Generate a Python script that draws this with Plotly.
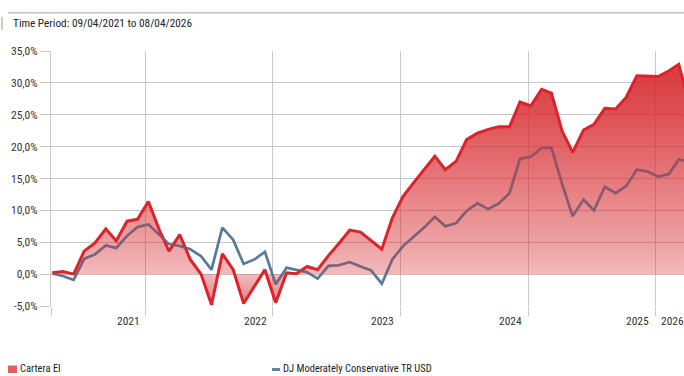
import pandas as pd
import plotly.graph_objects as go

# Monthly observations, one every month from 9 April 2021
dates = pd.date_range("2021-04-01", periods=61, freq="MS") + pd.Timedelta(days=8)

cartera_ei = [
    0.2, 0.4, 0.0, 3.6, 4.9, 7.1, 5.2, 8.3, 8.6, 11.4,
    7.0, 3.6, 6.2, 2.3, 0.0, -4.8, 3.2, 0.7, -4.6, -1.9,
    0.7, -4.5, 0.2, 0.05, 1.2, 0.7, 2.9, 4.8, 6.9, 6.6,
    5.3, 3.9, 8.8, 12.2, 14.4, 16.4, 18.5, 16.4, 17.7, 21.1,
    22.1, 22.7, 23.1, 23.1, 27.0, 26.4, 29.0, 28.4, 22.4, 19.1,
    22.6, 23.5, 26.0, 25.9, 27.7, 31.1, 31.1, 31.0, 31.9, 32.9,
    26.5,
]

dj_mod_cons = [
    0.1, -0.3, -0.9, 2.4, 3.1, 4.5, 4.1, 6.0, 7.4, 7.8,
    6.2, 4.7, 4.4, 3.9, 2.8, 0.7, 7.3, 5.4, 1.6, 2.3,
    3.5, -1.6, 1.0, 0.7, 0.3, -0.7, 1.3, 1.4, 1.9, 1.2,
    0.6, -1.5, 2.3, 4.4, 5.9, 7.3, 9.0, 7.5, 8.0, 9.9,
    11.1, 10.2, 11.1, 12.7, 18.1, 18.4, 19.8, 19.8, 14.1, 9.1,
    11.7, 10.0, 13.7, 12.7, 13.8, 16.4, 16.1, 15.3, 15.7, 18.0,
    17.6,
]

y_ticks = [-5, 0, 5, 10, 15, 20, 25, 30, 35]
y_tick_text = ["-5,0%", "0,0%", "5,0%", "10,0%", "15,0%", "20,0%", "25,0%", "30,0%", "35,0%"]

year_bounds = ["2022-01-01", "2023-01-01", "2024-01-01", "2025-01-01", "2026-01-01"]
year_labels = ["2021", "2022", "2023", "2024", "2025", "2026"]

title_text = "Time Period: 09/04/2021 to 08/04/2026"
name_a = "Cartera EI"
name_b = "DJ Moderately Conservative TR USD"

FONT = "Roboto Condensed, Liberation Sans Narrow, DejaVu Sans Condensed, sans-serif"
W, H = 684, 376
ML, MR, MT, MB = 51, 0, 51, 70
PW, PH = W - ML - MR, H - MT - MB
x_start, x_end = "2021-04-05", "2026-03-24"

RED = "rgb(218,35,42)"
BLUE = "rgb(88,123,152)"
GRID = "rgb(200,200,200)"


def px_x(px):
    return (px - ML) / PW


def px_y(py):
    return (MT + PH - py) / PH


fig = go.Figure()

# benchmark line, drawn under the portfolio's translucent area
fig.add_trace(go.Scatter(
    x=dates, y=dj_mod_cons, mode="lines", name=name_b,
    line=dict(color=BLUE, width=2.6), showlegend=False,
))

fig.add_trace(go.Scatter(
    x=dates, y=cartera_ei, mode="lines", name=name_a,
    line=dict(color=RED, width=3), fill="tozeroy",
    fillgradient=dict(
        type="vertical", start=-5, stop=35,
        colorscale=[
            [0.0, "rgba(214,40,45,0.60)"],
            [0.125, "rgba(214,40,45,0.32)"],
            [0.25, "rgba(214,40,45,0.44)"],
            [0.375, "rgba(214,40,45,0.53)"],
            [0.5, "rgba(214,40,45,0.63)"],
            [0.625, "rgba(214,40,45,0.72)"],
            [0.75, "rgba(214,40,45,0.81)"],
            [0.875, "rgba(214,40,45,0.88)"],
            [1.0, "rgba(214,40,45,0.93)"],
        ],
    ),
    showlegend=False,
))

# faint benchmark overlay so it stays visible through the area
fig.add_trace(go.Scatter(
    x=dates, y=dj_mod_cons, mode="lines", name=name_b,
    line=dict(color=BLUE, width=2.6), opacity=0.3,
    showlegend=False, hoverinfo="skip",
))

# x-axis year labels sit just before each year boundary; the last one after it
annotations = []
for bound, lab in zip(year_bounds, year_labels[:-1]):
    annotations.append(dict(
        x=bound, xref="x", y=px_y(321), yref="paper", text=lab,
        showarrow=False, xanchor="right", yanchor="middle", xshift=-4,
        font=dict(family=FONT, size=11.5, color="#333333"),
    ))
annotations.append(dict(
    x=year_bounds[-1], xref="x", y=px_y(321), yref="paper", text=year_labels[-1],
    showarrow=False, xanchor="left", yanchor="middle", xshift=4,
    font=dict(family=FONT, size=11.5, color="#333333"),
))

annotations.append(dict(
    x=px_x(11), xref="paper", y=px_y(23.5), yref="paper", text=title_text,
    showarrow=False, xanchor="left", yanchor="middle",
    font=dict(family=FONT, size=11.3, color="#222222"),
))
annotations.append(dict(
    x=px_x(18), xref="paper", y=px_y(368.5), yref="paper", text=name_a,
    showarrow=False, xanchor="left", yanchor="middle",
    font=dict(family=FONT, size=10.5, color="#222222"),
))
annotations.append(dict(
    x=px_x(281), xref="paper", y=px_y(368.5), yref="paper", text=name_b,
    showarrow=False, xanchor="left", yanchor="middle",
    font=dict(family=FONT, size=10.5, color="#222222"),
))

shapes = [
    # frame line above the chart header
    dict(type="line", xref="paper", yref="paper",
         x0=px_x(8), x1=px_x(684), y0=px_y(12.7), y1=px_y(12.7),
         line=dict(color="rgb(195,195,195)", width=1.5)),
    dict(type="line", xref="paper", yref="paper",
         x0=px_x(2), x1=px_x(2), y0=px_y(17), y1=px_y(30),
         line=dict(color="rgb(150,150,150)", width=1)),
    # legend swatches
    dict(type="rect", xref="paper", yref="paper",
         x0=px_x(8), x1=px_x(17), y0=px_y(365.5), y1=px_y(373),
         fillcolor="rgb(228,95,95)", line=dict(width=0)),
    dict(type="line", xref="paper", yref="paper",
         x0=px_x(272), x1=px_x(280), y0=px_y(369.5), y1=px_y(369.5),
         line=dict(color="rgb(100,130,160)", width=3)),
]

fig.update_layout(
    width=W, height=H,
    margin=dict(l=ML, r=MR, t=MT, b=MB, pad=0),
    paper_bgcolor="white", plot_bgcolor="white",
    showlegend=False,
    annotations=annotations,
    shapes=shapes,
    xaxis=dict(
        type="date", range=[x_start, x_end],
        tickvals=[x_start] + year_bounds, showticklabels=False,
        ticks="outside", ticklen=9, tickcolor=GRID, tickwidth=1.3,
        showgrid=True, gridcolor=GRID, gridwidth=1.3,
        zeroline=False, showline=False,
    ),
    yaxis=dict(
        range=[-5, 35], tickvals=y_ticks, ticktext=y_tick_text,
        ticks="outside", ticklen=10, tickcolor=GRID, tickwidth=1.3,
        showgrid=True, gridcolor=GRID, gridwidth=1.3,
        zeroline=False, showline=True, linecolor=GRID, linewidth=1.3,
        tickfont=dict(family=FONT, size=11.5, color="#333333"),
    ),
)

fig.write_html("out.html")
